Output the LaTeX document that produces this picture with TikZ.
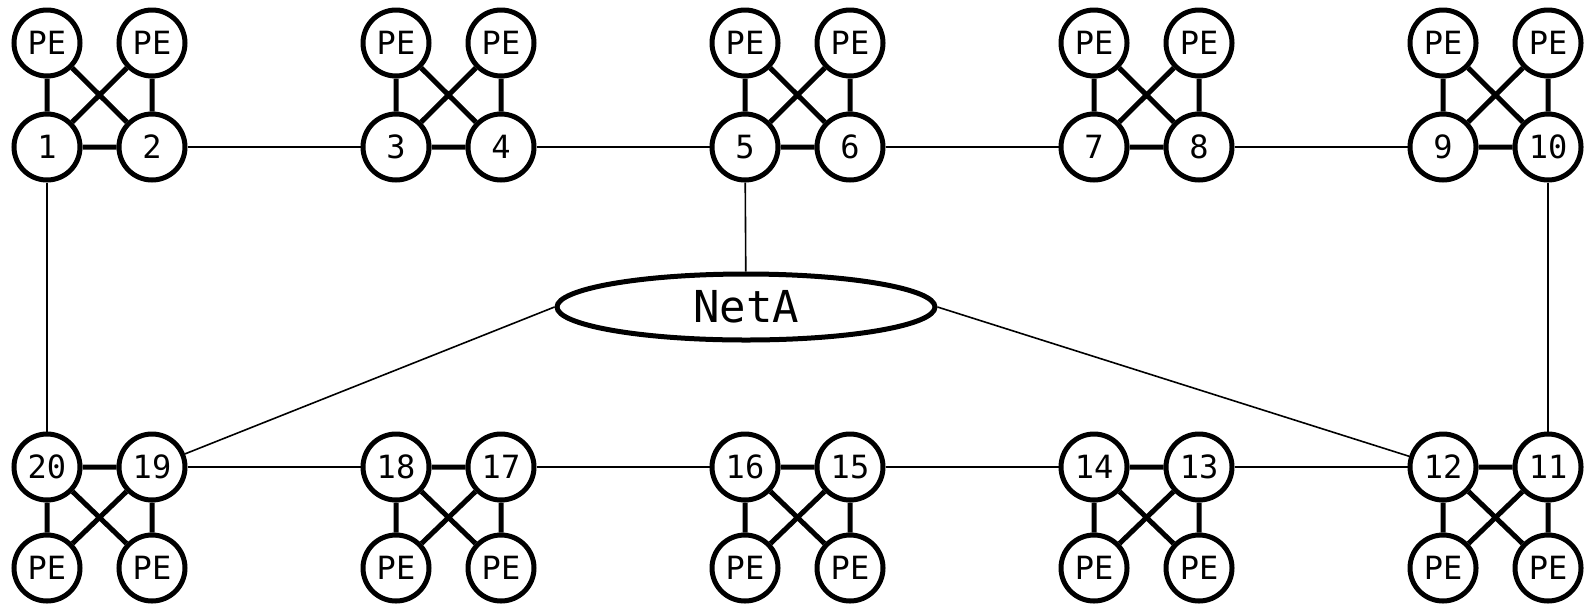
\documentclass[tikz,border=0pt]{standalone}
\usepackage{fontspec}
\newfontfamily\netmono{DejaVu Sans Mono}
\usetikzlibrary{shapes.geometric}

\begin{document}
\begin{tikzpicture}[x=1pt, y=-1pt,
    proc/.style={circle, draw, line width=5pt, minimum size=66pt, inner sep=0pt,
                 font=\netmono\fontsize{32}{32}\selectfont},
    net/.style={ellipse, draw, line width=5pt, minimum width=378pt, minimum height=66pt,
                font=\netmono\fontsize{44}{44}\selectfont},
    link/.style={line width=5pt},
    bus/.style={line width=1.6pt}]

        \useasboundingbox (0,0) rectangle (1586,606);

        % 1. upper row: five node pairs, each with two PEs above
        \foreach \g in {0,...,4} {
            \pgfmathtruncatemacro{\a}{2*\g+1}
            \pgfmathtruncatemacro{\b}{2*\g+2}
            \node[proc] (n\a) at (47+349*\g,147) {\a};
            \node[proc] (n\b) at (152+349*\g,147) {\b};
            \node[proc] (pe\a) at (47+349*\g,43) {PE};
            \node[proc] (pe\b) at (152+349*\g,43) {PE};
            \draw[link] (n\a) -- (n\b) (pe\a) -- (n\a) (pe\b) -- (n\b)
                        (pe\a) -- (n\b) (pe\b) -- (n\a);
        }

        % 2. lower row: numbered right to left, PEs below
        \foreach \g in {0,...,4} {
            \pgfmathtruncatemacro{\a}{20-2*\g}
            \pgfmathtruncatemacro{\b}{19-2*\g}
            \node[proc] (n\a) at (47+349*\g,467) {\a};
            \node[proc] (n\b) at (152+349*\g,467) {\b};
            \node[proc] (pe\a) at (47+349*\g,568) {PE};
            \node[proc] (pe\b) at (152+349*\g,568) {PE};
            \draw[link] (n\a) -- (n\b) (pe\a) -- (n\a) (pe\b) -- (n\b)
                        (pe\a) -- (n\b) (pe\b) -- (n\a);
        }

        % 3. thin links between neighbouring pairs
        \foreach \g in {0,...,3} {
            \pgfmathtruncatemacro{\a}{2*\g+2}
            \pgfmathtruncatemacro{\b}{2*\g+3}
            \pgfmathtruncatemacro{\c}{19-2*\g}
            \pgfmathtruncatemacro{\d}{18-2*\g}
            \draw[bus] (n\a) -- (n\b);
            \draw[bus] (n\c) -- (n\d);
        }

        % 4. the shared network in the middle
        \node[net] (neta) at (746,307) {NetA};

        \draw[bus] (n1) -- (n20);
        \draw[bus] (n10) -- (n11);
        \draw[bus] (n5) -- (neta);
        \draw[bus] (neta.west) -- (n19);
        \draw[bus] (neta.east) -- (n12);

\end{tikzpicture}
\end{document}
